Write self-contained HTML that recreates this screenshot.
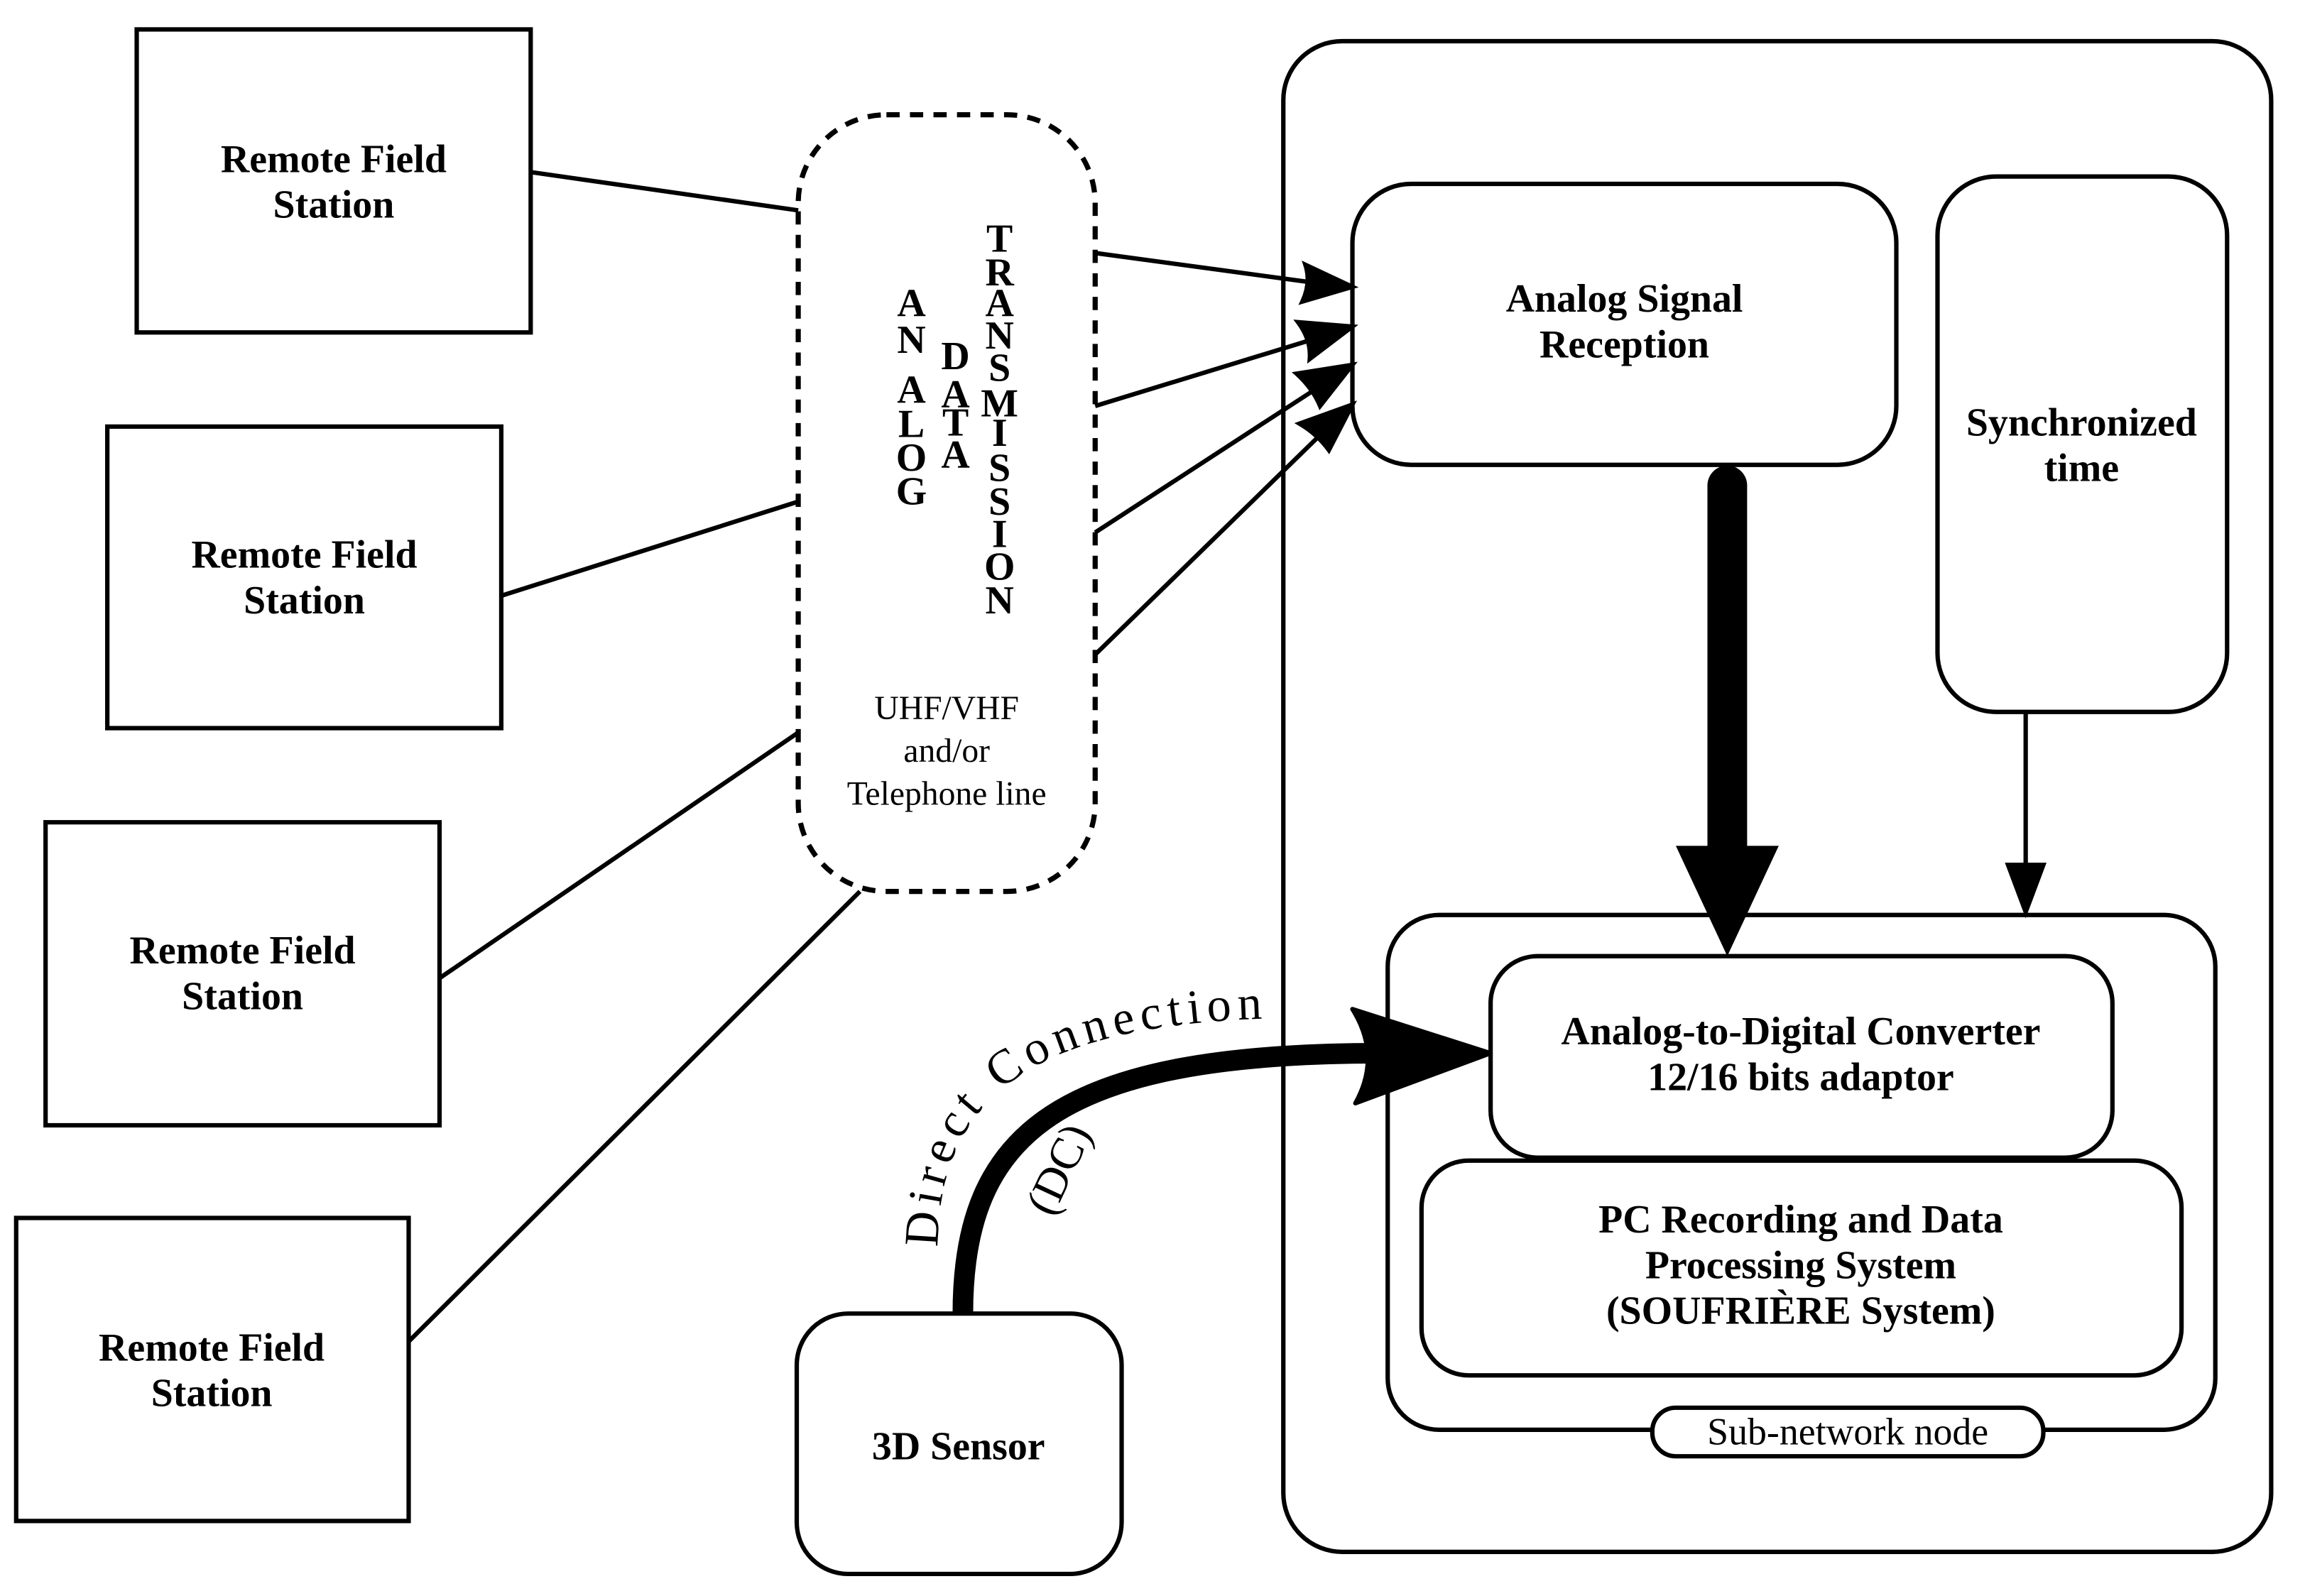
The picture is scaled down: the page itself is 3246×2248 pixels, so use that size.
<!DOCTYPE html>
<html><head><meta charset="utf-8"><style>html,body{margin:0;padding:0;background:#fff}svg{display:block}</style></head><body>
<svg width="3246" height="2248" viewBox="0 0 1568 1085" preserveAspectRatio="none" xmlns="http://www.w3.org/2000/svg">
<g fill="none" stroke="#000" stroke-width="3">
<rect x="93" y="20" width="268" height="206"/>
<rect x="73" y="290" width="268" height="205"/>
<rect x="31" y="559" width="268" height="206"/>
<rect x="11" y="828" width="267" height="206"/>
<rect x="543" y="78" width="202" height="528" rx="60" stroke-dasharray="9,7" stroke-width="3.5"/>
<line x1="361" y1="117" x2="543" y2="143"/>
<line x1="341" y1="405" x2="543" y2="341"/>
<line x1="299" y1="665" x2="543" y2="498"/>
<line x1="278" y1="912" x2="585" y2="606"/>
<rect x="873" y="28" width="672" height="1027" rx="40"/>
<rect x="920" y="125" width="370" height="191" rx="40"/>
<rect x="1318" y="120" width="197" height="364" rx="40"/>
<rect x="944" y="622" width="563" height="350" rx="35"/>
<rect x="1014" y="650" width="423" height="137" rx="32"/>
<rect x="967" y="789" width="517" height="146" rx="32"/>
<rect x="542" y="893" width="221" height="177" rx="35"/>
</g>
<g stroke="#000" stroke-width="3" fill="#000">
<line x1="745" y1="172" x2="900" y2="193"/>
<path d="M920,195 L886,205 Q892,192 888,180Z"/>
<line x1="745" y1="276" x2="902" y2="228"/>
<path d="M920,222 L891,244 Q892,231 883,219Z"/>
<line x1="745" y1="362" x2="905" y2="258"/>
<path d="M920,248 L898,276 Q893,264 882,254Z"/>
<line x1="745" y1="445" x2="907" y2="287"/>
<path d="M920,275 L904,306 Q896,295 884,288Z"/>
<line x1="1378" y1="484" x2="1378" y2="595"/>
<path d="M1366,588 L1390,588 L1378,620Z"/>
</g>
<line x1="1175" y1="330" x2="1175" y2="580" stroke="#000" stroke-width="27" stroke-linecap="round"/>
<path d="M1140,575 L1210,575 L1175,650Z" fill="#000"/>
<path d="M655,893 C655,770 720,716 940,716" fill="none" stroke="#000" stroke-width="14"/>
<path d="M920,686 L1014,716 L922,750 Q940,718 920,686Z" fill="#000" stroke="#000" stroke-width="3" stroke-linejoin="round"/>
<rect x="1124" y="957" width="266" height="33" rx="16" fill="#fff" stroke="#000" stroke-width="3"/>
<path id="tp" d="M638,848 C638,740 710,694 880,692" fill="none"/>
<g font-family="Liberation Serif, serif" fill="#000">
<text font-size="33" letter-spacing="4"><textPath href="#tp">Direct Connection</textPath></text>
<text font-size="31" transform="translate(716,828) rotate(-65)">(DC)</text>
<g font-weight="bold" font-size="27" text-anchor="middle">
<text x="227" y="117">Remote Field</text><text x="227" y="148">Station</text>
<text x="207" y="386">Remote Field</text><text x="207" y="417">Station</text>
<text x="165" y="655">Remote Field</text><text x="165" y="686">Station</text>
<text x="144" y="925">Remote Field</text><text x="144" y="956">Station</text>
<text x="1105" y="212">Analog Signal</text><text x="1105" y="243">Reception</text>
<text x="1416" y="296">Synchronized</text><text x="1416" y="327">time</text>
<text x="1225" y="710">Analog-to-Digital Converter</text><text x="1225" y="741">12/16 bits adaptor</text>
<text x="1225" y="838">PC Recording and Data</text><text x="1225" y="869">Processing System</text><text x="1225" y="900">(SOUFRIÈRE System)</text>
<text x="652" y="992">3D Sensor</text>
</g>
<g font-weight="bold" font-size="27" text-anchor="middle">
<text x="620" y="215">A</text><text x="620" y="240">N</text><text x="620" y="274">A</text><text x="620" y="297">L</text><text x="620" y="320">O</text><text x="620" y="343">G</text>
<text x="650" y="251">D</text><text x="650" y="277">A</text><text x="650" y="296">T</text><text x="650" y="318">A</text>
<text x="680" y="171">T</text><text x="680" y="194">R</text><text x="680" y="215">A</text><text x="680" y="237">N</text><text x="680" y="259">S</text><text x="680" y="283">M</text><text x="680" y="303">I</text><text x="680" y="327">S</text><text x="680" y="350">S</text><text x="680" y="372">I</text><text x="680" y="394">O</text><text x="680" y="417">N</text>
</g>
<g font-size="23" text-anchor="middle">
<text x="644" y="489">UHF/VHF</text><text x="644" y="518">and/or</text><text x="644" y="547">Telephone line</text>
</g>
<text x="1257" y="982" font-size="26" text-anchor="middle">Sub-network node</text>
</g>
</svg>
</body></html>
